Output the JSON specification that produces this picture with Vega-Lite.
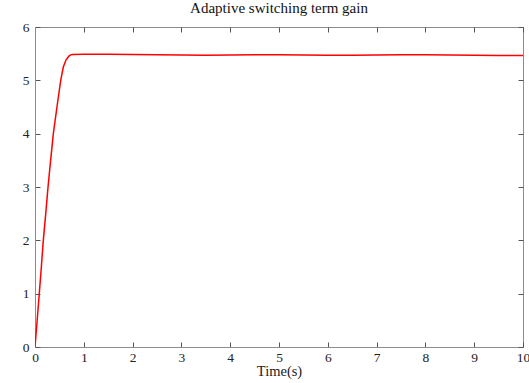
{
  "$schema": "https://vega.github.io/schema/vega-lite/v6.json",
  "width": 488,
  "height": 320,
  "autosize": {"type": "none"},
  "padding": {"left": 35, "top": 27, "right": 6, "bottom": 36},
  "background": "white",
  "config": {
    "view": {"stroke": "#8c8c8c", "strokeWidth": 1},
    "font": "Liberation Serif",
    "axis": {
      "grid": false,
      "domainColor": "#8c8c8c",
      "tickColor": "#555555",
      "tickSize": -5,
      "labelFont": "Liberation Serif",
      "labelFontSize": 13.5,
      "labelColor": "#222222",
      "titleFont": "Liberation Serif",
      "titleFontSize": 14.5,
      "titleFontWeight": "normal",
      "titleColor": "#222222"
    }
  },
  "title": {
    "text": "Adaptive switching term gain",
    "font": "Liberation Serif",
    "fontSize": 15,
    "fontWeight": "normal",
    "color": "#111111",
    "offset": 4
  },
  "data": {
    "values": [
      {"t": 0, "v": 0},
      {"t": 0.044, "v": 0.5},
      {"t": 0.088, "v": 1.0},
      {"t": 0.13, "v": 1.5},
      {"t": 0.17, "v": 2.0},
      {"t": 0.22, "v": 2.5},
      {"t": 0.267, "v": 3.0},
      {"t": 0.32, "v": 3.5},
      {"t": 0.376, "v": 4.0},
      {"t": 0.45, "v": 4.5},
      {"t": 0.527, "v": 5.0},
      {"t": 0.58, "v": 5.25},
      {"t": 0.635, "v": 5.38},
      {"t": 0.69, "v": 5.45},
      {"t": 0.73, "v": 5.478},
      {"t": 0.77, "v": 5.485},
      {"t": 1.0, "v": 5.487},
      {"t": 1.5, "v": 5.488},
      {"t": 2.0, "v": 5.485},
      {"t": 2.5, "v": 5.48},
      {"t": 3.0, "v": 5.474},
      {"t": 3.5, "v": 5.472},
      {"t": 4.0, "v": 5.477},
      {"t": 4.5, "v": 5.482},
      {"t": 5.0, "v": 5.481},
      {"t": 5.5, "v": 5.477},
      {"t": 6.0, "v": 5.471},
      {"t": 6.5, "v": 5.469},
      {"t": 7.0, "v": 5.474},
      {"t": 7.5, "v": 5.479},
      {"t": 8.0, "v": 5.479},
      {"t": 8.5, "v": 5.474},
      {"t": 9.0, "v": 5.468},
      {"t": 9.5, "v": 5.465},
      {"t": 10, "v": 5.467}
    ]
  },
  "layer": [
    {
      "mark": {"type": "line", "color": "#ff0000", "strokeWidth": 1.5, "clip": true},
      "encoding": {
        "x": {
          "field": "t", "type": "quantitative",
          "scale": {"domain": [0, 10], "nice": false, "zero": false},
          "axis": {"orient": "bottom", "title": "Time(s)", "values": [0,1,2,3,4,5,6,7,8,9,10], "labelPadding": 8, "titlePadding": 1, "labelFlush": false}
        },
        "y": {
          "field": "v", "type": "quantitative",
          "scale": {"domain": [0, 6], "nice": false},
          "axis": {"orient": "left", "title": null, "values": [0,1,2,3,4,5,6], "labelPadding": 11}
        }
      }
    },
    {
      "mark": {"type": "line", "opacity": 0},
      "encoding": {
        "x": {
          "field": "t", "type": "quantitative",
          "scale": {"domain": [0, 10], "nice": false, "zero": false},
          "axis": {"orient": "top", "title": null, "labels": false, "domain": false, "values": [0,1,2,3,4,5,6,7,8,9,10]}
        },
        "y": {
          "field": "v", "type": "quantitative",
          "scale": {"domain": [0, 6], "nice": false},
          "axis": {"orient": "right", "title": null, "labels": false, "domain": false, "values": [0,1,2,3,4,5,6]}
        }
      }
    }
  ],
  "resolve": {"axis": {"x": "independent", "y": "independent"}}
}
